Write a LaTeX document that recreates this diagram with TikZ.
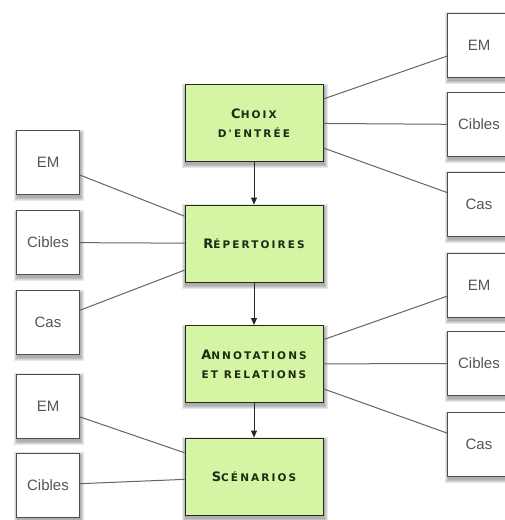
\documentclass[tikz,border=0pt]{standalone}
\usepackage{fontspec}
\setmainfont{Liberation Sans}
\newfontfamily\capfont[LetterSpace=20]{DejaVu Sans}
\usetikzlibrary{arrows.meta}

\definecolor{stepgreen}{RGB}{214,245,164}
\definecolor{captext}{RGB}{30,42,20}
\definecolor{itemtext}{RGB}{85,85,85}
\definecolor{linkgray}{RGB}{100,100,100}

\pgfdeclarelayer{background}
\pgfsetlayers{background,main}

% big first letter, smaller caps after it
\newcommand{\firstcap}[2]{{\fontsize{13}{19}\selectfont #1}#2}

\begin{document}
\begin{tikzpicture}[x=1pt,y=-1pt,
    stepbox/.style={draw=black!85,line width=0.9pt,fill=stepgreen,
      minimum width=138pt,minimum height=77pt,inner sep=0pt,align=center,
      text=captext,font=\capfont\bfseries\fontsize{10.5}{19}\selectfont},
    itembox/.style={draw=black!70,line width=0.9pt,fill=white,
      minimum width=63pt,minimum height=64pt,inner sep=0pt,
      text=itemtext,font=\fontsize{15}{17}\selectfont},
    link/.style={draw=linkgray,line width=1pt},
    flow/.style={draw=black!85,line width=0.9pt,-{Triangle[length=7pt,width=6pt]}}]
  \useasboundingbox (0,0) rectangle (505,520);

  % main steps
  \node[stepbox] (choix) at (254,123) {\firstcap{C}{HOIX}\\D'ENTRÉE};
  \node[stepbox] (rep) at (254,243.5) {\firstcap{R}{ÉPERTOIRES}};
  \node[stepbox] (annot) at (254,364) {\firstcap{A}{NNOTATIONS}\\ET RELATIONS};
  \node[stepbox] (scen) at (254,476.5) {\firstcap{S}{CÉNARIOS}};

  % left items
  \node[itembox] (lem1) at (48,162.5) {EM};
  \node[itembox] (lcib1) at (48,242.5) {Cibles};
  \node[itembox] (lcas1) at (48,322.5) {Cas};
  \node[itembox] (lem2) at (48,406) {EM};
  \node[itembox] (lcib2) at (48,485) {Cibles};

  % right items
  \node[itembox] (rem1) at (479,45) {EM};
  \node[itembox] (rcib1) at (479,124.5) {Cibles};
  \node[itembox] (rcas1) at (479,204) {Cas};
  \node[itembox] (rem2) at (479,285) {EM};
  \node[itembox] (rcib2) at (479,363.5) {Cibles};
  \node[itembox] (rcas2) at (479,444.5) {Cas};

  % soft shadows under the boxes
  \begin{pgfonlayer}{background}
    \foreach \n in {choix,rep,annot,scen,lem1,lcib1,lcas1,lem2,lcib2,rem1,rcib1,rcas1,rem2,rcib2,rcas2}
      \foreach \s in {0.5,1.5,2.5,3.5}
        \fill[black,opacity=0.09]
          ([xshift={(1-\s)*1pt},yshift={(-3+\s)*1pt}]\n.north west) rectangle
          ([xshift={(1+\s)*1pt},yshift={(-3-\s)*1pt}]\n.south east);
  \end{pgfonlayer}

  % links
  \foreach \it in {rem1,rcib1,rcas1} \draw[link] (choix) -- (\it);
  \foreach \it in {lem1,lcib1,lcas1} \draw[link] (\it) -- (rep);
  \foreach \it in {rem2,rcib2,rcas2} \draw[link] (annot) -- (\it);
  \foreach \it in {lem2,lcib2} \draw[link] (\it) -- (scen);

  \draw[flow] (choix) -- (rep);
  \draw[flow] (rep) -- (annot);
  \draw[flow] (annot) -- (scen);
\end{tikzpicture}
\end{document}
